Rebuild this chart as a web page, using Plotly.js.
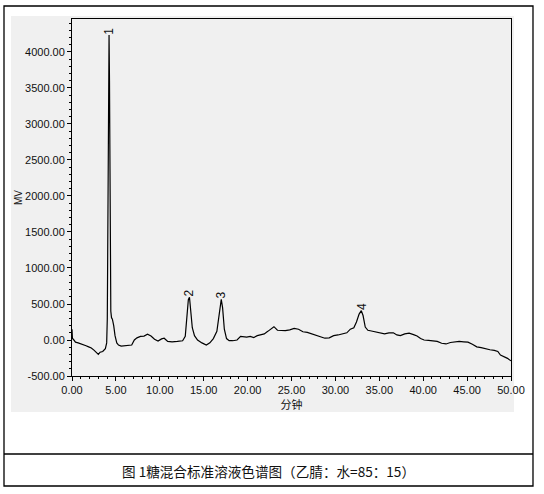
<!DOCTYPE html>
<html>
<head>
<meta charset="utf-8">
<script src="https://cdn.plot.ly/plotly-3.0.1.min.js"></script>
<style>html,body{margin:0;padding:0;background:#fff;}#chart{width:544px;height:494px;}</style>
</head>
<body>
<div id="chart"></div>
<script>
// Retention time (minutes)
const timeMin = [0.0, 0.05, 0.15, 0.4, 0.7, 1.0, 1.3, 1.6, 1.9, 2.2, 2.5, 2.8, 3.0, 3.2, 3.5, 3.8, 3.95, 4.02, 4.08, 4.13, 4.18, 4.22, 4.27, 4.31, 4.36, 4.42, 4.5, 4.6, 4.75, 4.9, 5.1, 5.3, 5.6, 6.0, 6.4, 6.8, 7.1, 7.4, 7.8, 8.2, 8.6, 9.0, 9.4, 9.8, 10.2, 10.5, 10.9, 11.4, 12.0, 12.6, 12.9, 13.1, 13.25, 13.38, 13.5, 13.7, 13.95, 14.3, 14.8, 15.3, 15.7, 16.1, 16.5, 16.8, 17.0, 17.15, 17.35, 17.6, 17.9, 18.3, 18.8, 19.2, 19.5, 19.9, 20.3, 20.7, 21.1, 21.5, 21.9, 22.3, 22.7, 23.0, 23.4, 23.8, 24.3, 24.8, 25.3, 25.8, 26.3, 26.8, 27.3, 27.8, 28.3, 28.8, 29.3, 29.8, 30.3, 30.8, 31.3, 31.7, 32.1, 32.4, 32.7, 32.95, 33.15, 33.4, 33.7, 34.1, 34.6, 35.1, 35.6, 36.1, 36.6, 37.0, 37.4, 37.9, 38.4, 38.9, 39.3, 39.7, 40.1, 40.6, 41.1, 41.6, 42.1, 42.6, 43.1, 43.6, 44.1, 44.6, 45.1, 45.6, 46.1, 46.6, 47.1, 47.6, 48.1, 48.5, 48.8, 49.2, 49.6, 50.0];
// Detector signal (MV)
const signalMV = [150, 20, 10, -30, -40, -50, -60, -80, -95, -110, -140, -185, -200, -170, -160, -120, -40, 300, 1800, 3700, 3750, 4236, 3600, 2000, 800, 400, 310, 290, 200, 60, -40, -70, -85, -80, -78, -70, 0, 30, 50, 55, 80, 55, 10, -15, 15, 25, -20, -25, -20, -10, 50, 300, 560, 593, 420, 170, 60, 0, -40, -70, -40, 20, 120, 420, 565, 450, 150, 20, -10, -10, 0, 50, 45, 40, 50, 35, 60, 70, 85, 120, 160, 185, 135, 130, 130, 140, 162, 150, 115, 105, 85, 70, 50, 25, 30, 60, 70, 80, 100, 150, 170, 250, 360, 407, 340, 180, 135, 125, 115, 95, 85, 100, 100, 70, 60, 85, 95, 75, 55, 20, 0, -5, -15, -20, -45, -55, -35, -25, -20, -25, -30, -60, -95, -105, -125, -135, -145, -160, -210, -230, -255, -290];

// Peaks
const peakLabels = ["1", "2", "3", "4"];
const peakTimes = [4.2, 13.35, 17.0, 32.95];
const peakHeights = [4236, 593, 565, 407];

// Axis ticks
const xTickVals = [0, 5, 10, 15, 20, 25, 30, 35, 40, 45, 50];
const xTickText = ["0.00", "5.00", "10.00", "15.00", "20.00", "25.00", "30.00", "35.00", "40.00", "45.00", "50.00"];
const yTickVals = [-500, 0, 500, 1000, 1500, 2000, 2500, 3000, 3500, 4000];
const yTickText = ["-500.00", "0.00", "500.00", "1000.00", "1500.00", "2000.00", "2500.00", "3000.00", "3500.00", "4000.00"];

const xTitle = "分钟";
const yTitle = "MV";
const caption = "图 1糖混合标准溶液色谱图（乙腈：水=85：15）";

const tickFont = {family: "Liberation Sans, Arial, sans-serif", size: 11, color: "#111"};

const trace = {
  x: timeMin, y: signalMV, type: "scatter", mode: "lines",
  line: {color: "#000", width: 1.2}, hoverinfo: "skip"
};

const annotations = peakLabels.map((lab, i) => ({
  x: peakTimes[i], y: peakHeights[i], xref: "x", yref: "y",
  text: lab, showarrow: false, textangle: -90,
  xanchor: "center", yanchor: "middle", yshift: 4,
  font: {family: "Liberation Sans, Arial, sans-serif", size: 12, color: "#111"}
}));
annotations.push({
  x: 0.4476, y: -0.266, xref: "paper", yref: "paper",
  text: caption, showarrow: false, xanchor: "center", yanchor: "middle",
  font: {family: "Noto Sans CJK SC, sans-serif", size: 13.6, color: "#111"}
});

const layout = {
  width: 544, height: 494,
  margin: {l: 72, r: 33, t: 19, b: 118, pad: 0},
  paper_bgcolor: "#ffffff",
  plot_bgcolor: "rgba(0,0,0,0)",
  showlegend: false,
  xaxis: {
    range: [0, 50], tickvals: xTickVals, ticktext: xTickText,
    ticks: "outside", ticklen: 4, tickcolor: "#000", tickwidth: 1,
    minor: {ticks: "outside", dtick: 1, ticklen: 2, tickcolor: "#000"},
    showgrid: false, zeroline: false, showline: true, linecolor: "#000", linewidth: 1, mirror: true,
    tickfont: tickFont,
    title: {text: xTitle, font: {family: "Noto Sans CJK SC, sans-serif", size: 11, color: "#111"}, standoff: 2}
  },
  yaxis: {
    range: [-500, 4458], tickvals: yTickVals, ticktext: yTickText,
    ticks: "outside", ticklen: 4, tickcolor: "#000", tickwidth: 1,
    minor: {ticks: "outside", dtick: 100, ticklen: 2, tickcolor: "#000"},
    showgrid: false, zeroline: false, showline: true, linecolor: "#000", linewidth: 1, mirror: true,
    tickfont: tickFont,
    title: {text: yTitle, font: {family: "Liberation Sans, Arial, sans-serif", size: 10, color: "#111"}, standoff: 0}
  },
  shapes: [
    {type: "rect", xref: "paper", yref: "paper", x0: -0.139, x1: 1.0068, y0: -0.1008, y1: 1.0084,
     fillcolor: "#f0f0f0", line: {width: 0}, layer: "below"},
    {type: "rect", xref: "paper", yref: "paper", x0: -0.1549, x1: 1.0501, y0: -0.3081, y1: 1.0364,
     fillcolor: "rgba(0,0,0,0)", line: {color: "#000", width: 1.3}},
    {type: "line", xref: "paper", yref: "paper", x0: -0.1549, x1: 1.0501, y0: -0.2185, y1: -0.2185,
     line: {color: "#000", width: 1.3}}
  ],
  annotations: annotations
};

Plotly.newPlot("chart", [trace], layout, {displayModeBar: false, staticPlot: true});
</script>
</body>
</html>
